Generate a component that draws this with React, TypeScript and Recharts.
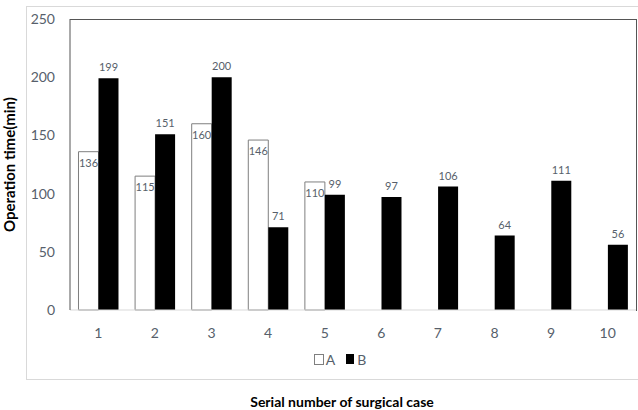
import React from "react";
import { BarChart, Bar, XAxis, YAxis, LabelList, Label } from "recharts";

const cases = ["1", "2", "3", "4", "5", "6", "7", "8", "9", "10"];
const seriesA: (number | null)[] = [136, 115, 160, 146, 110, null, null, null, null, null];
const seriesB: number[] = [199, 151, 200, 71, 99, 97, 106, 64, 111, 56];
const yTicks = [0, 50, 100, 150, 200, 250];

const data = cases.map((c, i) => ({ name: c, A: seriesA[i], B: seriesB[i] }));

const FONT = "Lato, 'Open Sans', sans-serif";
const GREY = "#575f6b";

export default function App() {
  return (
    <div style={{ position: "absolute", left: 0, top: 0, width: 638, height: 410, background: "#fff" }}>
      <div style={{ position: "absolute", left: 26, top: 6, width: 620, height: 374, border: "1px solid #d9d9d9", boxSizing: "border-box" }} />
      <div style={{ position: "absolute", left: 0, top: 0 }}>
        <BarChart
          width={638}
          height={410}
          data={data}
          margin={{ top: 19, right: 2, bottom: 0, left: 0 }}
          barCategoryGap="15%"
          barGap={0}
        >
          <XAxis
            dataKey="name"
            height={100}
            tickLine={false}
            axisLine={{ stroke: "#d9d9d9" }}
            tick={{ fill: GREY, fontSize: 14, fontFamily: FONT }}
            tickMargin={12}
            interval={0}
          >
            <Label
              value="Serial number of surgical case"
              position="insideBottom"
              offset={3}
              dx={-11}
              style={{ fontFamily: FONT, fontWeight: 700, fontSize: 14, fill: "#000" }}
            />
          </XAxis>
          <YAxis
            width={70}
            domain={[0, 250]}
            ticks={yTicks}
            tickLine={false}
            tickSize={0}
            tickMargin={15}
            axisLine={{ stroke: "#555" }}
            tick={{ fill: GREY, fontSize: 14, fontFamily: FONT }}
          >
            <Label
              value="Operation time(min)"
              angle={-90}
              position="insideLeft"
              offset={10}
              textAnchor="middle"
              style={{ fontFamily: FONT, fontWeight: 700, fontSize: 15, fill: "#000", textAnchor: "middle" }}
            />
          </YAxis>
          <Bar dataKey="A" fill="#fff" stroke="#7f7f7f" strokeWidth={1} isAnimationActive={false}>
            <LabelList dataKey="A" position="insideTop" offset={7} style={{ fill: GREY, fontSize: 11, fontFamily: FONT }} />
          </Bar>
          <Bar dataKey="B" fill="#000" isAnimationActive={false}>
            <LabelList dataKey="B" position="top" offset={7} style={{ fill: GREY, fontSize: 11, fontFamily: FONT }} />
          </Bar>
        </BarChart>
      </div>
      <div style={{ position: "absolute", left: 70, top: 19, width: 567, height: 292, borderTop: "1px solid #555", borderRight: "1px solid #555", boxSizing: "border-box", pointerEvents: "none" }} />
      <div style={{ position: "absolute", left: 0, top: 351, width: 638, height: 16, display: "flex", justifyContent: "center", alignItems: "center", fontFamily: FONT, fontSize: 14, color: GREY, paddingLeft: 42, boxSizing: "border-box" }}>
        <span style={{ display: "inline-block", width: 8, height: 9, border: "1px solid #7f7f7f", background: "#fff", marginRight: 2 }} />
        <span style={{ marginRight: 11 }}>A</span>
        <span style={{ display: "inline-block", width: 8, height: 10, background: "#000", marginRight: 3 }} />
        <span>B</span>
      </div>
    </div>
  );
}
